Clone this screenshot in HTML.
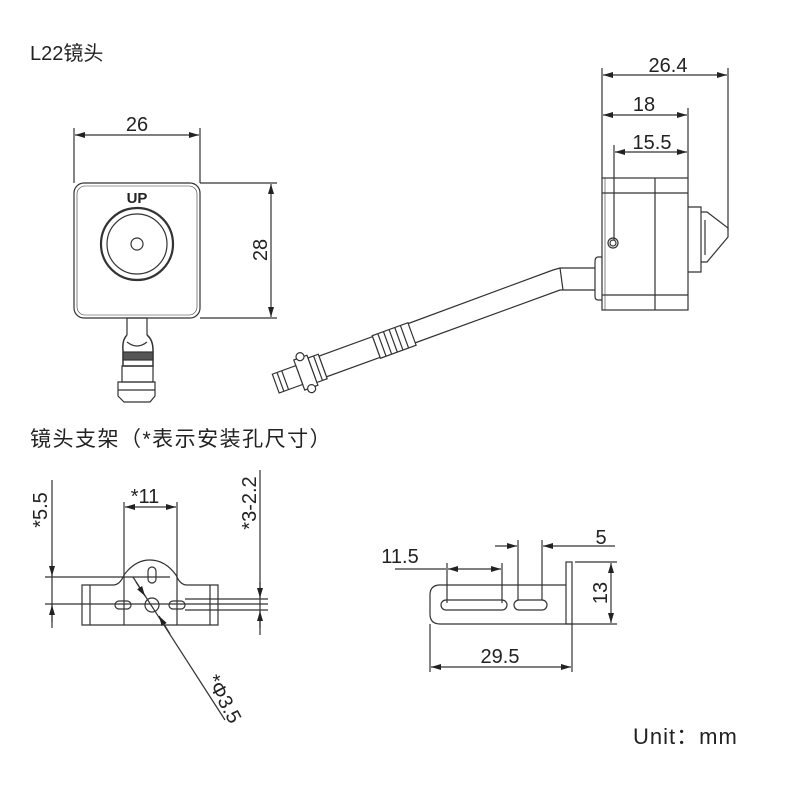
<!DOCTYPE html>
<html><head><meta charset="utf-8"><style>
body{margin:0;background:#fff}
svg{display:block}
text{font-family:"Liberation Sans","Noto Sans CJK SC",sans-serif;fill:#222}
</style></head><body>
<svg width="800" height="800" viewBox="0 0 800 800" xmlns="http://www.w3.org/2000/svg">
<defs>
<marker id="a" viewBox="0 0 10 6" refX="10" refY="3" markerWidth="10" markerHeight="6" orient="auto-start-reverse" markerUnits="userSpaceOnUse"><path d="M0,0 L10,3 L0,6z" fill="#222"/></marker>
</defs>
<text x="30" y="60" font-size="20">L22镜头</text>
<text x="30" y="446" font-size="21" letter-spacing="1.5">镜头支架（*表示安装孔尺寸）</text>
<text x="633" y="744" font-size="22" letter-spacing="1">Unit：mm</text>

<g stroke="#333" fill="none" stroke-width="1.2">
<!-- front view -->
<rect x="74" y="183" width="126" height="135" rx="10"/>
<rect x="77" y="186" width="120" height="129" rx="8" stroke-width="0.6"/>
<circle cx="137" cy="244" r="36" stroke-width="2.2"/>
<circle cx="137" cy="244" r="30"/>
<circle cx="137" cy="244" r="6"/>
<line x1="74" y1="128" x2="74" y2="183"/><line x1="200" y1="128" x2="200" y2="183"/>
<line x1="75" y1="135" x2="199" y2="135" marker-start="url(#a)" marker-end="url(#a)"/>
<line x1="200" y1="183" x2="277" y2="183"/><line x1="200" y1="318" x2="277" y2="318"/>
<line x1="271" y1="184" x2="271" y2="317" marker-start="url(#a)" marker-end="url(#a)"/>
<!-- front cable -->
<rect x="127" y="318" width="20" height="24"/>
<path d="M127,335 Q122,340 123,350 L123,366 L153,366 L153,350 Q153,340 147,335" fill="#fff" stroke-width="1.5"/>
<path d="M127,342 Q137,350 147,342" />
<rect x="123" y="352" width="30" height="8" fill="#555"/>
<rect x="122" y="366" width="31" height="16"/>
<path d="M118,382 L155,382 L155,396 L150,402 L124,402 L118,396z"/>
<line x1="118" y1="390" x2="155" y2="390"/>

<!-- side view -->
<rect x="602" y="178" width="86" height="132"/>
<line x1="602" y1="193" x2="688" y2="193"/><line x1="602" y1="295" x2="688" y2="295"/>
<line x1="655" y1="178" x2="655" y2="310"/>
<line x1="605" y1="178" x2="605" y2="310" stroke-width="0.6"/>
<circle cx="613" cy="243" r="5"/><circle cx="613" cy="243" r="3"/>
<path d="M602,257 L598,257 Q595,257 595,262 L595,296 Q595,300 598,300 L602,300"/>
<path d="M688,207 L701,207 L701,272 L688,272"/>
<path d="M701,212 L707,212 L728,228 L728,237 L707,262 L701,262"/>
<line x1="705" y1="220" x2="705" y2="255"/>
<!-- side cable -->
<path d="M595,268 L560,268 L553,270 L407,324"/>
<path d="M595,290 L560,290 L412,344"/>
<line x1="560" y1="268" x2="563" y2="290"/>
<g transform="translate(412,334) rotate(-20)">
<rect x="-38" y="-12" width="38" height="24" fill="#fff"/>
<line x1="-32" y1="-12" x2="-32" y2="12"/><line x1="-26" y1="-12" x2="-26" y2="12"/><line x1="-20" y1="-12" x2="-20" y2="12"/><line x1="-14" y1="-12" x2="-14" y2="12"/><line x1="-8" y1="-12" x2="-8" y2="12"/>
<rect x="-95" y="-11" width="57" height="22" fill="#fff"/>
<rect x="-106" y="-13" width="11" height="26" fill="#fff"/>
<line x1="-100" y1="-13" x2="-100" y2="13"/>
<rect x="-120" y="-16" width="14" height="32" fill="#fff"/>
<circle cx="-113" cy="-17" r="4" fill="#fff"/><circle cx="-113" cy="17" r="4" fill="#fff"/>
<rect x="-145" y="-10" width="25" height="20" fill="#fff"/>
<line x1="-140" y1="-10" x2="-140" y2="10"/><line x1="-135" y1="-10" x2="-135" y2="10"/>
</g>
<!-- side dims -->
<line x1="602" y1="68" x2="602" y2="178"/>
<line x1="728" y1="68" x2="728" y2="230"/>
<line x1="688" y1="108" x2="688" y2="178"/>
<line x1="614" y1="145" x2="614" y2="240"/>
<line x1="603" y1="75" x2="727" y2="75" marker-start="url(#a)" marker-end="url(#a)"/>
<line x1="603" y1="115" x2="687" y2="115" marker-start="url(#a)" marker-end="url(#a)"/>
<line x1="615" y1="152" x2="687" y2="152" marker-start="url(#a)" marker-end="url(#a)"/>

<!-- bracket front -->
<path d="M82,585 L113,585 Q120,585 124,575 Q135,560 150,560 Q165,560 176,575 Q180,585 187,585 L218,585 L218,625 L82,625z"/>
<line x1="90" y1="585" x2="90" y2="625"/><line x1="210" y1="585" x2="210" y2="625"/>
<rect x="115" y="601" width="16" height="8" rx="4"/>
<rect x="169" y="601" width="16" height="8" rx="4"/>
<circle cx="152" cy="605" r="7"/>
<rect x="148" y="567" width="8" height="16" rx="4"/>
<line x1="124" y1="502" x2="124" y2="625"/><line x1="177" y1="502" x2="177" y2="625"/>
<line x1="125" y1="507" x2="176" y2="507" marker-start="url(#a)" marker-end="url(#a)"/>
<line x1="52" y1="480" x2="52" y2="628"/>
<line x1="45" y1="577" x2="170" y2="577"/><line x1="45" y1="604" x2="268" y2="604"/>
<line x1="52" y1="560" x2="52" y2="576" marker-end="url(#a)"/>
<line x1="52" y1="622" x2="52" y2="605" marker-end="url(#a)"/>
<line x1="260" y1="470" x2="260" y2="635"/>
<line x1="185" y1="599" x2="268" y2="599"/><line x1="185" y1="610" x2="268" y2="610"/>
<line x1="260" y1="582" x2="260" y2="598" marker-end="url(#a)"/>
<line x1="260" y1="628" x2="260" y2="611" marker-end="url(#a)"/>
<line x1="133" y1="577" x2="225" y2="720"/>
<line x1="136" y1="582" x2="145" y2="596" marker-end="url(#a)"/>
<line x1="170" y1="634" x2="159" y2="616" marker-end="url(#a)"/>

<!-- bracket side -->
<path d="M440,585 L566,585 M440,624 L572,624 M440,585 Q430,585 430,595 L430,614 Q430,624 440,624"/>
<rect x="566" y="562" width="6" height="62"/>
<rect x="441" y="600" width="66" height="10" rx="5"/>
<rect x="514" y="600" width="33" height="10" rx="5"/>
<line x1="447" y1="563" x2="447" y2="603"/><line x1="502" y1="563" x2="502" y2="603"/>
<line x1="395" y1="569" x2="446" y2="569"/>
<line x1="448" y1="569" x2="501" y2="569" marker-start="url(#a)" marker-end="url(#a)"/>
<line x1="518" y1="540" x2="518" y2="600"/><line x1="542" y1="540" x2="542" y2="600"/>
<line x1="495" y1="546" x2="517" y2="546" marker-end="url(#a)"/>
<line x1="615" y1="546" x2="543" y2="546" marker-end="url(#a)"/>
<line x1="575" y1="562" x2="617" y2="562"/><line x1="572" y1="624" x2="617" y2="624"/>
<line x1="611" y1="563" x2="611" y2="623" marker-start="url(#a)" marker-end="url(#a)"/>
<line x1="430" y1="624" x2="430" y2="672"/><line x1="572" y1="624" x2="572" y2="672"/>
<line x1="431" y1="667" x2="571" y2="667" marker-start="url(#a)" marker-end="url(#a)"/>
</g>

<g font-size="20">
<text x="137" y="131" text-anchor="middle">26</text>
<text transform="translate(267,250) rotate(-90)" text-anchor="middle">28</text>
<text x="137" y="203" text-anchor="middle" font-weight="bold" font-size="15">UP</text>
<text x="668" y="72" text-anchor="middle">26.4</text>
<text x="644" y="111" text-anchor="middle">18</text>
<text x="652" y="149" text-anchor="middle">15.5</text>
<text x="145" y="503" text-anchor="middle">*11</text>
<text transform="translate(47,510) rotate(-90)" text-anchor="middle">*5.5</text>
<text transform="translate(256,503) rotate(-90)" text-anchor="middle">*3-2.2</text>
<text transform="translate(218,702) rotate(62)" text-anchor="middle">*Φ3.5</text>
<text x="400" y="563" text-anchor="middle">11.5</text>
<text x="601" y="544" text-anchor="middle">5</text>
<text transform="translate(607,593) rotate(-90)" text-anchor="middle">13</text>
<text x="500" y="663" text-anchor="middle">29.5</text>
</g>
</svg>
</body></html>
